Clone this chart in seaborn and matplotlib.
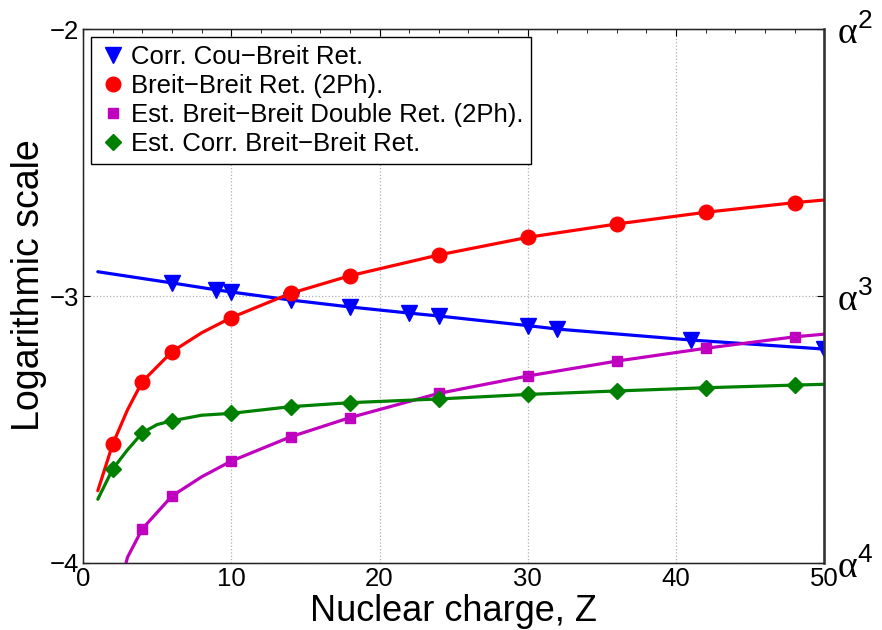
import matplotlib
matplotlib.use("Agg")
import matplotlib.pyplot as plt
import seaborn as sns
import pandas as pd
from matplotlib.ticker import MultipleLocator

# values (log10 of the contribution)
cou_z = [1, 6, 9, 10, 14, 18, 22, 24, 30, 32, 41, 50]
cou_val = [-2.909, -2.951, -2.977, -2.985, -3.015, -3.041, -3.064, -3.075, -3.111, -3.124, -3.165, -3.199]
cou_mark = [6, 9, 10, 14, 18, 22, 24, 30, 32, 41, 50]

bb_z = [1, 2, 3, 4, 6, 8, 10, 14, 18, 24, 30, 36, 42, 48, 50]
bb_val = [-3.730, -3.556, -3.427, -3.321, -3.209, -3.138, -3.081, -2.990, -2.924, -2.846, -2.780, -2.730, -2.686, -2.650, -2.640]
bb_mark = [2, 4, 6, 10, 14, 18, 24, 30, 36, 42, 48]

dbl_z = [2, 3, 4, 6, 8, 10, 14, 18, 24, 30, 36, 42, 48, 50]
dbl_val = [-4.20, -3.98, -3.873, -3.750, -3.678, -3.619, -3.528, -3.456, -3.365, -3.300, -3.244, -3.196, -3.153, -3.143]
dbl_mark = [4, 6, 10, 14, 18, 24, 30, 36, 42, 48]

corr_z = [1, 2, 3, 4, 5, 6, 8, 10, 14, 18, 24, 30, 36, 42, 48, 50]
corr_val = [-3.762, -3.649, -3.577, -3.513, -3.482, -3.468, -3.447, -3.440, -3.415, -3.400, -3.386, -3.369, -3.356, -3.344, -3.334, -3.331]
corr_mark = [2, 4, 6, 10, 14, 18, 24, 30, 36, 42, 48]

right_ticks = [-2, -3, -4]
right_labels = [r"$\mathrm{\alpha}^{\mathsf{2}}$", r"$\mathrm{\alpha}^{\mathsf{3}}$", r"$\mathrm{\alpha}^{\mathsf{4}}$"]

series = [
    ("Corr. Cou\u2212Breit Ret.", cou_z, cou_val, cou_mark, "#0000ff", "v", 11),
    ("Breit\u2212Breit Ret. (2Ph).", bb_z, bb_val, bb_mark, "#ff0000", "o", 10.5),
    ("Est. Breit\u2212Breit Double Ret. (2Ph).", dbl_z, dbl_val, dbl_mark, "#bf00bf", "s", 7.5),
    ("Est. Corr. Breit\u2212Breit Ret.", corr_z, corr_val, corr_mark, "#008000", "D", 8.5),
]

sns.set_style("white")
plt.rcParams["font.family"] = ["Liberation Sans", "DejaVu Sans"]
plt.rcParams["mathtext.fontset"] = "custom"
plt.rcParams["mathtext.rm"] = "Liberation Serif"
plt.rcParams["mathtext.sf"] = "Liberation Sans"
for k in ["text.color", "axes.labelcolor", "xtick.color", "ytick.color"]:
    plt.rcParams[k] = "black"

fig = plt.figure(figsize=(8.82, 6.3), dpi=100)
ax = fig.add_axes([0.0941, 0.1068, 0.8405, 0.8467])

for label, z, v, marks, color, m, ms in series:
    df = pd.DataFrame({"Z": z, "val": v})
    sns.lineplot(data=df, x="Z", y="val", color=color, lw=2.3, sort=False,
                 estimator=None, ax=ax, zorder=3)
    dm = df[df["Z"].isin(marks)]
    ax.plot(dm["Z"], dm["val"], ls="none", marker=m, ms=ms, color=color,
            mec=color, label=label, zorder=4)

ax.set_xlim(0, 50)
ax.set_ylim(-4, -2)
ax.xaxis.set_major_locator(MultipleLocator(10))
ax.xaxis.set_minor_locator(MultipleLocator(2))
ax.yaxis.set_major_locator(MultipleLocator(1))
ax.grid(True, which="major", ls=":", color="#b0b0b0", lw=0.9)
ax.tick_params(which="both", direction="in", top=True, right=False,
               labelsize=18.5, pad=3)
ax.tick_params(which="major", length=5)
ax.tick_params(which="minor", length=3)
for s in ax.spines.values():
    s.set_color("black")
    s.set_linewidth(1.0)

ax.set_xlabel("Nuclear charge, Z", fontsize=26, labelpad=2)
ax.set_ylabel("Logarithmic scale", fontsize=27)
ax.yaxis.set_label_coords(-0.049, 0.52)

ax2 = ax.twinx()
ax2.set_ylim(-4, -2)
ax2.set_yticks(right_ticks)
ax2.set_yticklabels(right_labels)
ax2.tick_params(axis="y", direction="in", length=5, labelsize=27, pad=9)
ax2.spines["right"].set_color("#333333")
ax2.spines["right"].set_linewidth(1.8)

leg = ax.legend(loc="upper left", fontsize=18.5, frameon=True, fancybox=False,
                edgecolor="black", framealpha=1, borderaxespad=0.3,
                handletextpad=0.15, handlelength=1.1, labelspacing=0.2,
                borderpad=0.3)
leg.get_frame().set_linewidth(1.0)

fig.savefig("out.png", dpi=100)
